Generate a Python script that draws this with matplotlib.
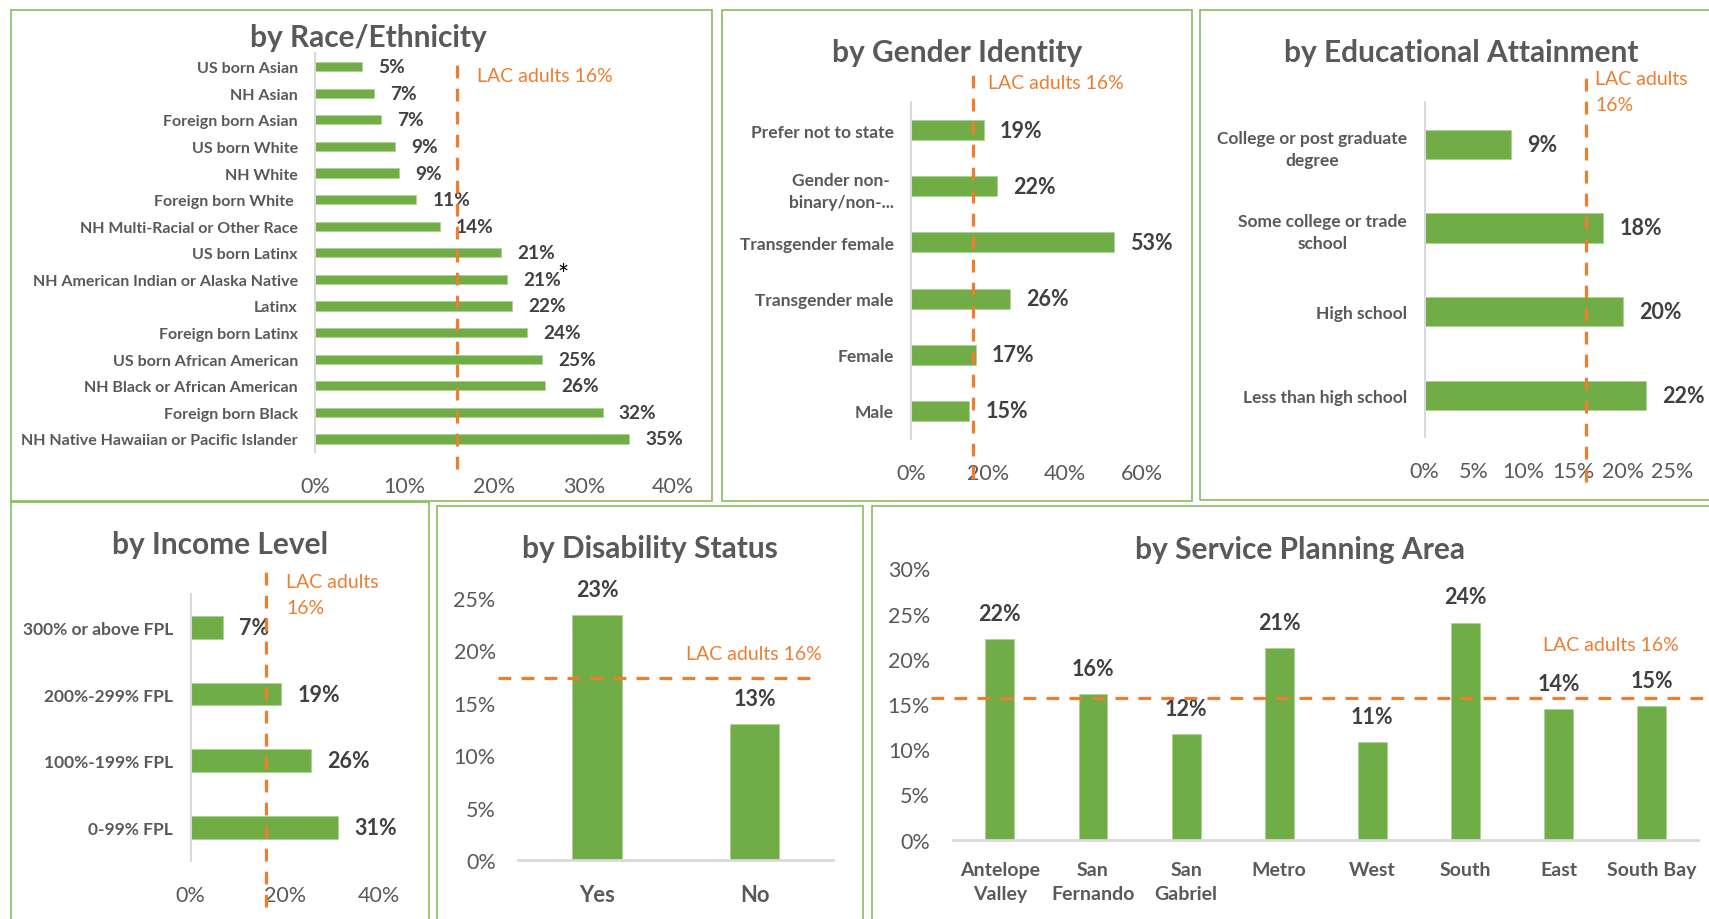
"""
Food insecurity dashboard — six small bar panels with the county reference line.
Writes out.png (1709 x 920 px).
"""

import numpy as np
import matplotlib
matplotlib.use("Agg")
import matplotlib.pyplot as plt
from matplotlib.patches import Rectangle

plt.rcParams["font.family"] = ["Lato", "DejaVu Sans"]

W, H = 1709, 920

GREEN = "#70AD47"
BAR_EDGE = "#A9D18E"
ORANGE = "#ED7D31"
GRAY_TXT = "#595959"
DARK_TXT = "#404040"
AXIS_GRAY = "#D9D9D9"
BORDER = "#86BC5E"

# =================================================================
# DATA
# =================================================================
race_labels = [
    "US born Asian", "NH Asian", "Foreign born Asian", "US born White",
    "NH White", "Foreign born White ", "NH Multi-Racial or Other Race",
    "US born Latinx", "NH American Indian or Alaska Native", "Latinx",
    "Foreign born Latinx", "US born African American",
    "NH Black or African American", "Foreign born Black",
    "NH Native Hawaiian or Pacific Islander",
]
race_values = [0.052, 0.066, 0.073, 0.089, 0.093, 0.113, 0.139, 0.208,
               0.214, 0.220, 0.236, 0.253, 0.257, 0.321, 0.351]
race_notes = ["", "", "", "", "", "", "", "", "*", "", "", "", "", "", ""]
race_ticks = [0, 0.10, 0.20, 0.30, 0.40]

gender_labels = ["Prefer not to state", "Gender non-\nbinary/non-...",
                 "Transgender female", "Transgender male", "Female", "Male"]
gender_values = [0.189, 0.223, 0.526, 0.256, 0.168, 0.151]
gender_ticks = [0, 0.20, 0.40, 0.60]

edu_labels = ["College or post graduate\ndegree", "Some college or trade\nschool",
              "High school", "Less than high school"]
edu_values = [0.087, 0.180, 0.200, 0.223]
edu_ticks = [0, 0.05, 0.10, 0.15, 0.20, 0.25]

income_labels = ["300% or above FPL", "200%-299% FPL", "100%-199% FPL", "0-99% FPL"]
income_values = [0.069, 0.192, 0.256, 0.313]
income_ticks = [0, 0.20, 0.40]

disab_labels = ["Yes", "No"]
disab_values = [0.234, 0.130]
disab_ticks = [0, 0.05, 0.10, 0.15, 0.20, 0.25]

spa_labels = ["Antelope\nValley", "San\nFernando", "San\nGabriel", "Metro",
              "West", "South", "East", "South Bay"]
spa_values = [0.222, 0.161, 0.117, 0.212, 0.108, 0.240, 0.144, 0.148]
spa_ticks = [0, 0.05, 0.10, 0.15, 0.20, 0.25, 0.30]

lac_label = "LAC adults 16%"
lac_label_wrapped = "LAC adults\n16%"
# where the hand-drawn reference line actually sits in each panel
lac_line = {"race": 0.158, "gender": 0.161, "edu": 0.163,
            "income": 0.160, "disab": 0.174, "spa": 0.157}


# =================================================================
# helpers (all layout in pixels of the 1709 x 920 canvas)
# =================================================================
def px_axes(fig, left, top, right, bottom):
    return fig.add_axes([left / W, 1 - bottom / H, (right - left) / W, (bottom - top) / H])


def px_text(fig, x, y, s, **kw):
    return fig.text(x / W, 1 - y / H, s, **kw)


def px_box(fig, left, top, right, bottom):
    fig.patches.append(Rectangle((left / W, 1 - bottom / H), (right - left) / W,
                                 (bottom - top) / H, transform=fig.transFigure,
                                 fill=False, edgecolor=BORDER, linewidth=1.2))


def pct(v):
    return f"{v:.0%}"


def hbar_panel(ax, labels, values, ticks, line_x, span, lab_fs=12.5, val_fs=15.5,
               tick_fs=15.5, bar_h=0.35):
    y = np.arange(len(values))
    ax.barh(y, values, height=bar_h, color=GREEN, edgecolor=BAR_EDGE, linewidth=0.5)
    ax.set_ylim(len(values) - 0.5, -0.5)
    ax.set_xlim(ticks[0], ticks[-1])
    ax.set_yticks(y)
    ax.set_yticklabels(labels, fontsize=lab_fs, fontweight="bold", color=GRAY_TXT)
    for t in ax.get_yticklabels():
        t.set_multialignment("center")
        t.set_linespacing(1.45)
    ax.set_xticks(ticks)
    ax.set_xticklabels([pct(t) for t in ticks], fontsize=tick_fs, color=GRAY_TXT)
    ax.tick_params(axis="both", length=0)
    ax.tick_params(axis="y", pad=12.5)
    ax.tick_params(axis="x", pad=17.3)
    for s in ("top", "right", "bottom"):
        ax.spines[s].set_visible(False)
    ax.spines["left"].set_color(AXIS_GRAY)
    ax.spines["left"].set_linewidth(1.5)
    for yi, v in zip(y, values):
        ax.annotate(pct(v), (v, yi), xytext=(11.7, 0), textcoords="offset points",
                    ha="left", va="center", fontsize=val_fs, fontweight="bold",
                    color=DARK_TXT)
    ax.axvline(line_x, ymin=span[0], ymax=span[1], color=ORANGE, lw=2.3,
               ls=(0, (4, 3.2)), clip_on=False, zorder=4)


def vbar_panel(ax, labels, values, ticks, line_y, span, cat_fs=15.5, val_fs=15.5,
               tick_fs=15.5, bar_w=0.32, cat_pad=17.3, ytick_pad=16.3):
    x = np.arange(len(values))
    ax.bar(x, values, width=bar_w, color=GREEN, edgecolor=BAR_EDGE, linewidth=0.5)
    ax.set_xlim(-0.5, len(values) - 0.5)
    ax.set_ylim(ticks[0], ticks[-1])
    ax.set_xticks(x)
    ax.set_xticklabels(labels, fontsize=cat_fs, fontweight="bold", color=GRAY_TXT)
    for t in ax.get_xticklabels():
        t.set_linespacing(1.5)
    ax.set_yticks(ticks)
    ax.set_yticklabels([pct(t) for t in ticks], fontsize=tick_fs, color=GRAY_TXT)
    ax.tick_params(axis="both", length=0)
    ax.tick_params(axis="x", pad=cat_pad)
    ax.tick_params(axis="y", pad=ytick_pad)
    for s in ("top", "right", "left"):
        ax.spines[s].set_visible(False)
    ax.spines["bottom"].set_color(AXIS_GRAY)
    ax.spines["bottom"].set_linewidth(2)
    for xi, v in zip(x, values):
        ax.annotate(pct(v), (xi, v), xytext=(0, 18.5), textcoords="offset points",
                    ha="center", va="center", fontsize=val_fs, fontweight="bold",
                    color=DARK_TXT, annotation_clip=False)
    ax.axhline(line_y, xmin=span[0], xmax=span[1], color=ORANGE, lw=2.3,
               ls=(0, (4, 3.2)), clip_on=False, zorder=4)


# =================================================================
# FIGURE
# =================================================================
fig = plt.figure(figsize=(W / 100, H / 100), dpi=100)
fig.patch.set_facecolor("white")

title_kw = dict(ha="center", va="center", fontsize=21.5, fontweight="bold", color=GRAY_TXT)
lac_kw = dict(va="center", fontsize=14, color=ORANGE)

# panel frames
px_box(fig, 11, 10.7, 712.3, 501.7)
px_box(fig, 721.7, 10.7, 1192.3, 501.7)
px_box(fig, 1200, 10.7, 1715, 501)
px_box(fig, 11, 502.7, 429, 930)
px_box(fig, 437.3, 506.7, 863.3, 930)
px_box(fig, 872.3, 506.7, 1715, 930)

# --- by Race/Ethnicity ---
ax = px_axes(fig, 315.3, 54.3, 673.3, 453.3)
hbar_panel(ax, race_labels, race_values, race_ticks, lac_line["race"], (-0.042, 0.983),
           lab_fs=11.5, val_fs=13.7, bar_h=0.34)
for yi, (v, note) in enumerate(zip(race_values, race_notes)):
    if note:
        ax.annotate(note, (v, yi), xytext=(40.5, 2.5), textcoords="offset points",
                    ha="center", va="center", fontsize=19, color="black")
px_text(fig, 368, 37.5, "by Race/Ethnicity", **title_kw)
px_text(fig, 477.3, 76.7, lac_label, ha="left", **lac_kw)

# --- by Gender Identity ---
ax = px_axes(fig, 911, 103, 1142, 440)
hbar_panel(ax, gender_labels, gender_values, gender_ticks, lac_line["gender"],
           (-0.119, 1.093), bar_h=0.356)
px_text(fig, 957, 53.3, "by Gender Identity", **title_kw)
px_text(fig, 988.3, 83.3, lac_label, ha="left", **lac_kw)

# --- by Educational Attainment ---
ax = px_axes(fig, 1424.5, 103.3, 1672.3, 438.3)
hbar_panel(ax, edu_labels, edu_values, edu_ticks, lac_line["edu"], (-0.134, 1.087),
           bar_h=0.35)
px_text(fig, 1461, 53.3, "by Educational Attainment", **title_kw)
px_text(fig, 1595, 92.5, lac_label_wrapped, ha="left", linespacing=1.7, **lac_kw)

# --- by Income Level ---
ax = px_axes(fig, 190.5, 595, 379, 861.7)
hbar_panel(ax, income_labels, income_values, income_ticks, lac_line["income"],
           (-0.175, 1.094), bar_h=0.34)
px_text(fig, 219.7, 545, "by Income Level", **title_kw)
px_text(fig, 286, 595.5, lac_label_wrapped, ha="left", linespacing=1.7, **lac_kw)

# --- by Disability Status ---
ax = px_axes(fig, 518.3, 599, 833.3, 861)
vbar_panel(ax, disab_labels, disab_values, disab_ticks, lac_line["disab"],
           (-0.065, 0.942), cat_fs=15.8, bar_w=0.315)
px_text(fig, 650, 549, "by Disability Status", **title_kw)
px_text(fig, 821.7, 654, lac_label, ha="right", **lac_kw)

# --- by Service Planning Area ---
ax = px_axes(fig, 953.3, 569.3, 1698.3, 840.7)
vbar_panel(ax, spa_labels, spa_values, spa_ticks, lac_line["spa"], (-0.030, 1.015),
           cat_fs=14, bar_w=0.31, cat_pad=15, ytick_pad=16.8)
px_text(fig, 1299.7, 550, "by Service Planning Area", **title_kw)
px_text(fig, 1679, 645.7, lac_label, ha="right", **lac_kw)

fig.savefig("out.png", dpi=100, facecolor="white")
plt.close(fig)
